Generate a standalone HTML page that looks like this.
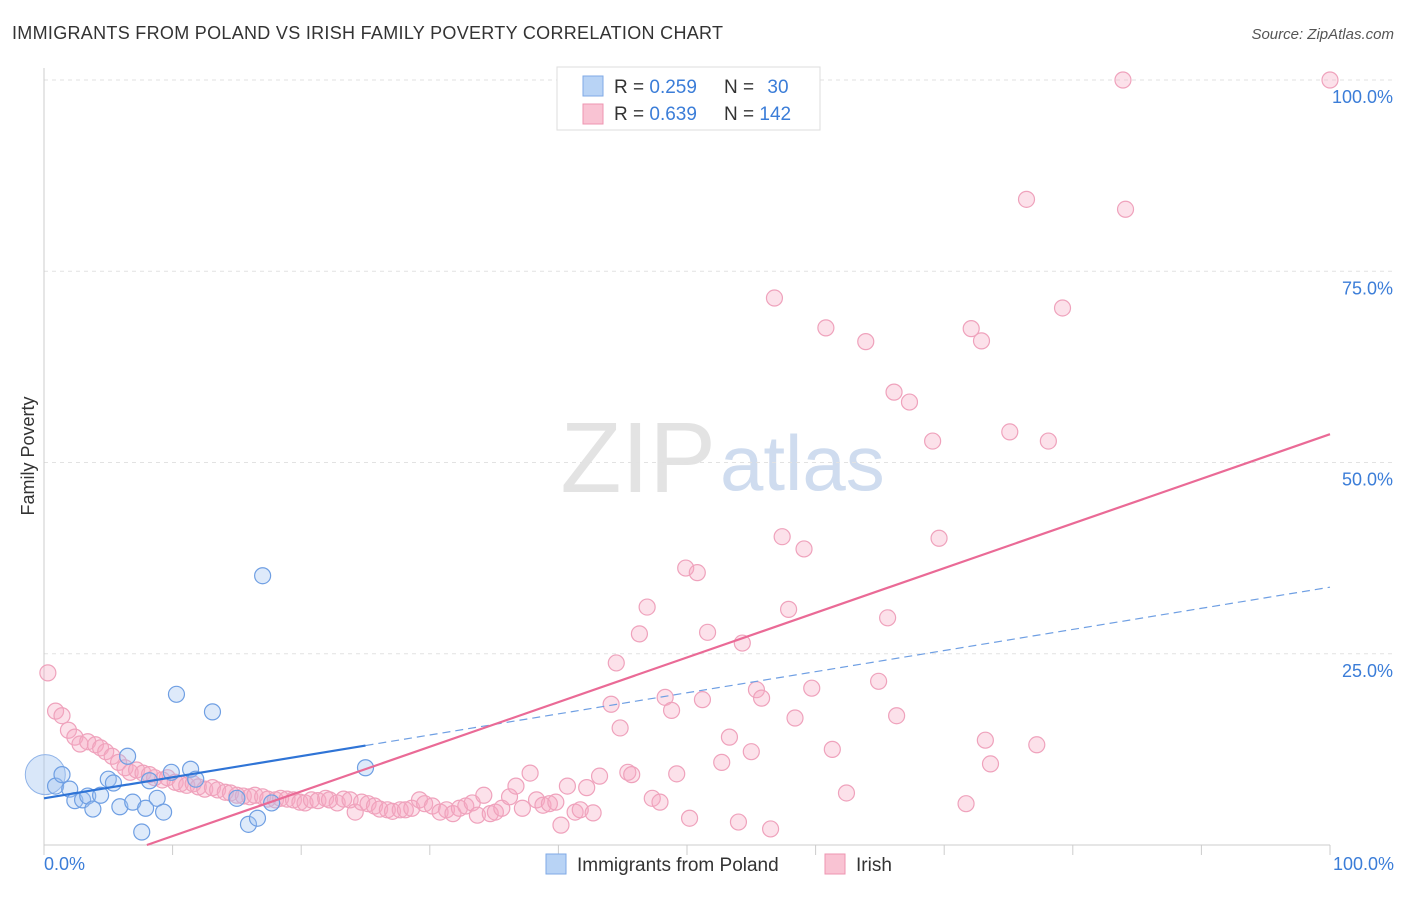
<!DOCTYPE html>
<html><head><meta charset="utf-8"><style>
body{margin:0;background:#fff;font-family:"Liberation Sans",sans-serif}
svg text{font-family:"Liberation Sans",sans-serif}
</style></head><body>
<svg id="chart" width="1406" height="892" viewBox="0 0 1406 892">
<text x="12" y="39" font-size="18" fill="#333" letter-spacing="0.3">IMMIGRANTS FROM POLAND VS IRISH FAMILY POVERTY CORRELATION CHART</text>
<text x="1394" y="39" font-size="15" fill="#555" font-style="italic" text-anchor="end">Source: ZipAtlas.com</text>
<text x="716" y="492" font-size="100" fill="#e3e3e3" text-anchor="end" font-family="Liberation Serif">ZIP</text>
<text x="720" y="490" font-size="78" fill="#cfdcef">atlas</text>
<g id="grid"></g><g id="axes"></g><g id="marks"></g>
<text x="34" y="456" font-size="18" fill="#333" text-anchor="middle" transform="rotate(-90 34 456)">Family Poverty</text>
<text x="44" y="870" font-size="18" fill="#3b7dd8">0.0%</text>
<text x="1394" y="870" font-size="18" fill="#3b7dd8" text-anchor="end">100.0%</text>
<g>
<rect x="557" y="67" width="263" height="63" fill="#fff" stroke="#ddd"/>
<rect x="583" y="76" width="20" height="20" fill="#b8d3f5" stroke="#7fa9e6"/>
<rect x="583" y="104" width="20" height="20" fill="#f9c3d3" stroke="#ee94b0"/>
<text x="614" y="93" font-size="19" fill="#333">R = <tspan fill="#3b7dd8">0.259</tspan></text>
<text x="724" y="93" font-size="19" fill="#333">N = <tspan fill="#3b7dd8" dx="8">30</tspan></text>
<text x="614" y="120" font-size="19" fill="#333">R = <tspan fill="#3b7dd8">0.639</tspan></text>
<text x="724" y="120" font-size="19" fill="#333">N = <tspan fill="#3b7dd8">142</tspan></text>
</g>
<g>
<rect x="546" y="854" width="20" height="20" fill="#b8d3f5" stroke="#7fa9e6"/>
<text x="577" y="871" font-size="19" fill="#333">Immigrants from Poland</text>
<rect x="825" y="854" width="20" height="20" fill="#f9c3d3" stroke="#ee94b0"/>
<text x="856" y="871" font-size="19" fill="#333">Irish</text>
</g>
</svg>
<script>
const yTicks=[25,50,75,100];
const yTickLabels=["25.0%","50.0%","75.0%","100.0%"];
const blueX=[0.9,1.4,2.0,2.4,3.0,3.4,3.8,4.4,5.0,5.4,5.9,6.5,6.9,7.6,7.9,8.2,8.8,9.3,9.9,10.3,11.4,11.8,13.1,15.0,15.9,16.6,17.0,17.7,25.0];
const blueY=[7.7,9.2,7.3,5.8,5.9,6.4,4.7,6.5,8.6,8.1,5.0,11.6,5.6,1.7,4.8,8.4,6.1,4.3,9.5,19.7,9.9,8.6,17.4,6.1,2.7,3.5,35.2,5.5,10.1];
const pinkX=[0.3,0.9,1.4,1.9,2.4,2.8,3.4,4.0,4.4,4.8,5.3,5.8,6.3,6.7,7.2,7.7,8.2,8.6,9.2,9.6,10.2,10.6,11.1,11.6,12.0,12.5,13.1,13.5,14.1,14.5,15.0,15.5,16.0,16.4,17.0,17.4,18.0,18.4,18.9,19.4,19.9,20.3,20.8,21.3,21.9,22.2,22.8,23.3,23.8,24.2,24.7,25.2,25.7,26.1,26.7,27.1,27.7,28.1,28.6,29.2,29.6,30.2,30.8,31.3,31.8,32.3,32.8,33.3,33.7,34.2,34.7,35.1,35.6,36.2,36.7,37.2,37.8,38.3,38.8,39.3,39.8,40.2,40.7,41.3,41.7,42.2,42.7,43.2,44.1,44.5,44.8,45.4,45.7,46.3,46.9,47.3,47.9,48.3,48.8,49.2,49.9,50.2,50.8,51.2,51.6,52.7,53.3,54.0,54.3,55.0,55.4,55.8,56.5,56.8,57.4,57.9,58.4,59.1,59.7,60.8,61.3,62.4,63.9,64.9,65.6,66.1,66.3,67.3,69.1,69.6,71.7,72.1,72.9,73.2,73.6,75.1,76.4,77.2,78.1,79.2,83.9,84.1,100];
const pinkY=[22.5,17.5,16.9,15.0,14.1,13.2,13.5,13.1,12.7,12.2,11.6,10.8,10.1,9.5,9.8,9.4,9.2,8.8,8.5,8.8,8.2,8.0,7.8,8.0,7.6,7.3,7.5,7.2,6.9,6.8,6.5,6.4,6.3,6.5,6.3,6.0,5.9,6.1,6.0,5.9,5.6,5.5,5.9,5.8,6.1,5.9,5.5,6.0,5.9,4.3,5.6,5.4,5.1,4.7,4.6,4.4,4.6,4.6,4.8,5.9,5.4,5.1,4.3,4.6,4.1,4.8,5.1,5.5,3.9,6.5,4.1,4.3,4.8,6.3,7.7,4.8,9.4,5.9,5.2,5.4,5.6,2.6,7.7,4.3,4.6,7.5,4.2,9.0,18.4,23.8,15.3,9.5,9.2,27.6,31.1,6.1,5.6,19.3,17.6,9.3,36.2,3.5,35.6,19.0,27.8,10.8,14.1,3.0,26.4,12.2,20.3,19.2,2.1,71.5,40.3,30.8,16.6,38.7,20.5,67.6,12.5,6.8,65.8,21.4,29.7,59.2,16.9,57.9,52.8,40.1,5.4,67.5,65.9,13.7,10.6,54.0,84.4,13.1,52.8,70.2,100,83.1,100];
const blueTrend=[6.1,33.7];
const pinkTrend=[-4.67,53.7];
const NS="http://www.w3.org/2000/svg";
const X=v=>44+v*12.86, Y=v=>845-v*7.65;
function mk(t,a,p){const e=document.createElementNS(NS,t);for(const k in a)e.setAttribute(k,a[k]);p.appendChild(e);return e;}
const grid=document.getElementById('grid'),axes=document.getElementById('axes'),marks=document.getElementById('marks');
yTicks.forEach((t,i)=>{
 const l=mk('line',{x1:44,x2:1394,y1:Y(t),y2:Y(t),stroke:'#e2e2e2','stroke-dasharray':'4,4'},grid);
 
 
 const tx=mk('text',{x:1393,y:Y(t)+23,'font-size':18,fill:'#3b7dd8','text-anchor':'end'},grid);
 tx.textContent=yTickLabels[i];
 
 
});
const ya=mk('line',{x1:44,x2:44,y1:68,y2:845,stroke:'#ccc'},axes);


const xa=mk('line',{x1:44,x2:1330,y1:845,y2:845,stroke:'#ccc'},axes);


for(let i=0;i<=10;i++){const t=mk('line',{x1:X(i*10),x2:X(i*10),y1:845,y2:855,stroke:'#ccc'},axes);
 
 }
pinkX.forEach((x,i)=>{const c=mk('circle',{cx:X(x),cy:Y(pinkY[i]),r:8,fill:'rgba(246,170,195,0.35)',stroke:'#efa2bc','stroke-width':1.2},marks);
 
 });
const big=mk('circle',{cx:X(0.1),cy:Y(9.2),r:20,fill:'rgba(160,195,240,0.4)',stroke:'#8fb3e8'},marks);


blueX.forEach((x,i)=>{const c=mk('circle',{cx:X(x),cy:Y(blueY[i]),r:8,fill:'rgba(160,195,240,0.35)',stroke:'#6f9fe3','stroke-width':1.2},marks);
 
 });
const bl=v=>blueTrend[0]+(blueTrend[1]-blueTrend[0])*v/100;
const b1=mk('line',{x1:X(0),y1:Y(bl(0)),x2:X(25),y2:Y(bl(25)),stroke:'#2f74d6','stroke-width':2.2},marks);


const b2=mk('line',{x1:X(25),y1:Y(bl(25)),x2:X(100),y2:Y(bl(100)),stroke:'#6f9fe3','stroke-width':1.2,'stroke-dasharray':'8,5'},marks);


const x0=-pinkTrend[0]/((pinkTrend[1]-pinkTrend[0])/100);
const p1=mk('line',{x1:X(x0),y1:Y(0),x2:X(100),y2:Y(pinkTrend[1]),stroke:'#ea6a96','stroke-width':2.2},marks);


</script>
</body></html>
